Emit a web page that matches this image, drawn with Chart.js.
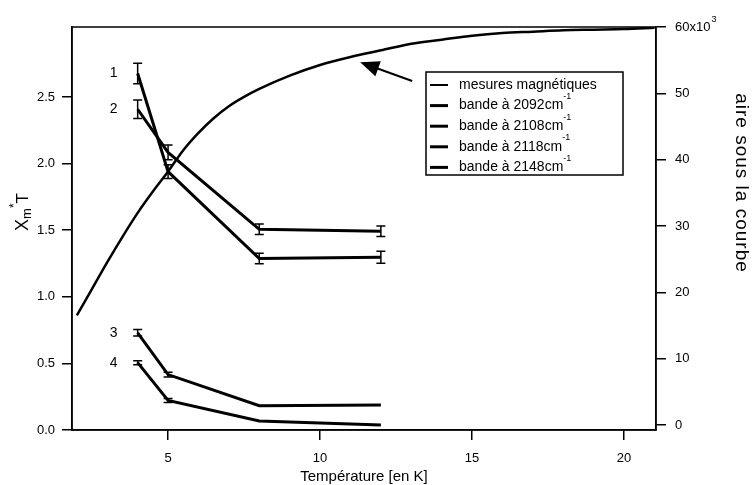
<!DOCTYPE html>
<html>
<head>
<meta charset="utf-8">
<script src="https://cdn.jsdelivr.net/npm/chart.js@4.4.1/dist/chart.umd.min.js"></script>
<style>
  html, body { margin: 0; padding: 0; background: #fff; }
  #chart { display: block; }
</style>
</head>
<body>
<canvas id="chart" width="752" height="485"></canvas>
<script>
// -------------------------
// Data
// -------------------------
const magTemps = [2.0, 2.5, 3.0, 3.5, 4.0, 4.5, 5.0, 5.5, 6.0, 6.5, 7.0, 7.5, 8.0, 9.0, 10.0, 11.0, 12.0, 13.0, 14.0, 15.0, 16.0, 17.0, 18.0, 19.0, 20.0, 21.0];
const magValues = [0.86, 1.06, 1.26, 1.45, 1.63, 1.79, 1.94, 2.10, 2.23, 2.34, 2.43, 2.50, 2.56, 2.66, 2.74, 2.80, 2.85, 2.90, 2.93, 2.96, 2.98, 2.99, 3.00, 3.005, 3.01, 3.02];

const bandTemps = [4, 5, 8, 12];
const band2092 = [53000, 38200, 25100, 25300];
const band2092Err = [1550, 1050, 800, 900];
const band2108 = [47600, 41100, 29500, 29200];
const band2108Err = [1400, 1100, 800, 800];
const band2118 = [13900, 7600, 2900, 3000];
const band2118Err = [500, 350, 0, 0];
const band2148 = [9400, 3700, 600, 0];
const band2148Err = [300, 300, 0, 0];

const bandNames = ["bande à 2092cm", "bande à 2108cm", "bande à 2118cm", "bande à 2148cm"];
const curveNumbers = ["1", "2", "3", "4"];

const xTicks = [5, 10, 15, 20];
const leftTicks = [0, 0.5, 1.0, 1.5, 2.0, 2.5];
const rightTicks = [0, 10000, 20000, 30000, 40000, 50000, 60000];

// arrow pointing at the magnetic curve, in data units (T, Xm*T)
const arrowTail = [13.03, 2.62];
const arrowTip = [11.32, 2.76];

const FONT = "'Liberation Sans', Arial, sans-serif";

function pts(xs, ys) {
  return xs.map((x, i) => ({ x: x, y: ys[i] }));
}

function bandSet(label, values, errs) {
  return {
    label: label,
    data: pts(bandTemps, values),
    errors: errs,
    yAxisID: "yR",
    borderColor: "#000",
    borderWidth: 3,
    pointRadius: 0,
    tension: 0,
  };
}

// -------------------------
// Error bars, frame, texts, legend, arrow
// -------------------------
const decorPlugin = {
  id: "decor",
  afterDatasetsDraw(chart) {
    const ctx = chart.ctx;
    const xs = chart.scales.x;
    const yr = chart.scales.yR;
    const yl = chart.scales.yL;
    const area = chart.chartArea;

    ctx.save();
    ctx.strokeStyle = "#000";
    ctx.fillStyle = "#000";

    // error bars
    ctx.lineWidth = 1.5;
    chart.data.datasets.forEach((ds) => {
      if (!ds.errors) return;
      ds.data.forEach((p, i) => {
        const e = ds.errors[i];
        if (!e) return;
        const px = xs.getPixelForValue(p.x);
        const top = yr.getPixelForValue(p.y + e);
        const bot = yr.getPixelForValue(p.y - e);
        ctx.beginPath();
        ctx.moveTo(px, top);
        ctx.lineTo(px, bot);
        ctx.moveTo(px - 4.5, top);
        ctx.lineTo(px + 4.5, top);
        ctx.moveTo(px - 4.5, bot);
        ctx.lineTo(px + 4.5, bot);
        ctx.stroke();
      });
    });

    // frame
    ctx.lineWidth = 1.5;
    ctx.strokeRect(area.left, area.top, area.right - area.left, area.bottom - area.top);

    // curve numbers next to the first point
    ctx.font = "14px " + FONT;
    ctx.textAlign = "center";
    ctx.textBaseline = "middle";
    chart.data.datasets.slice(1).forEach((ds, i) => {
      const p = ds.data[0];
      ctx.fillText(curveNumbers[i], xs.getPixelForValue(p.x) - 24, yr.getPixelForValue(p.y));
    });

    // arrow
    const tx = xs.getPixelForValue(arrowTail[0]);
    const ty = yl.getPixelForValue(arrowTail[1]);
    const hx = xs.getPixelForValue(arrowTip[0]);
    const hy = yl.getPixelForValue(arrowTip[1]);
    const ang = Math.atan2(hy - ty, hx - tx);
    ctx.lineWidth = 2;
    ctx.beginPath();
    ctx.moveTo(tx, ty);
    ctx.lineTo(hx - 14 * Math.cos(ang), hy - 14 * Math.sin(ang));
    ctx.stroke();
    ctx.beginPath();
    ctx.moveTo(hx, hy);
    ctx.lineTo(hx - 19 * Math.cos(ang) + 8 * Math.sin(ang), hy - 19 * Math.sin(ang) - 8 * Math.cos(ang));
    ctx.lineTo(hx - 19 * Math.cos(ang) - 8 * Math.sin(ang), hy - 19 * Math.sin(ang) + 8 * Math.cos(ang));
    ctx.closePath();
    ctx.fill();

    // legend box
    const lx = 426, ly = 72, lw = 197, lh = 103;
    ctx.fillStyle = "#fff";
    ctx.fillRect(lx, ly, lw, lh);
    ctx.fillStyle = "#000";
    ctx.lineWidth = 1.5;
    ctx.strokeRect(lx, ly, lw, lh);
    const names = [chart.data.datasets[0].label].concat(bandNames);
    ctx.textAlign = "left";
    names.forEach((name, i) => {
      const ry = ly + 13 + i * 20.6;
      ctx.lineWidth = i === 0 ? 2 : 3;
      ctx.beginPath();
      ctx.moveTo(lx + 4, ry);
      ctx.lineTo(lx + 22, ry);
      ctx.stroke();
      ctx.font = "14px " + FONT;
      ctx.fillText(name, lx + 33, ry);
      if (i > 0) {
        const w = ctx.measureText(name).width;
        ctx.font = "9px " + FONT;
        ctx.fillText("-1", lx + 33 + w, ry - 9);
      }
    });

    ctx.restore();
  },
  afterDraw(chart) {
    const ctx = chart.ctx;
    const area = chart.chartArea;
    const yr = chart.scales.yR;
    ctx.save();
    ctx.fillStyle = "#000";

    // superscript on the 60x10^3 tick label
    ctx.font = "13px " + FONT;
    const base = ctx.measureText("60x10").width;
    ctx.font = "9px " + FONT;
    ctx.textAlign = "left";
    ctx.textBaseline = "middle";
    ctx.fillText("3", area.right + 19 + base + 1, yr.getPixelForValue(60000) - 7);

    // x title
    ctx.font = "15px " + FONT;
    ctx.textAlign = "center";
    ctx.fillText("Température [en K]", (area.left + area.right) / 2, 477);

    // left title X_m*T
    ctx.translate(23, 212);
    ctx.rotate(-Math.PI / 2);
    const parts = [
      { t: "X", f: "18px", dy: 0 },
      { t: "m", f: "13px", dy: 4 },
      { t: "*", f: "12px", dy: -8 },
      { t: "T", f: "17px", dy: 0 },
    ];
    let total = 0;
    parts.forEach((p) => {
      ctx.font = p.f + " " + FONT;
      p.w = ctx.measureText(p.t).width;
      total += p.w;
    });
    let cx = -total / 2;
    ctx.textAlign = "left";
    parts.forEach((p) => {
      ctx.font = p.f + " " + FONT;
      ctx.fillText(p.t, cx, p.dy);
      cx += p.w;
    });
    ctx.setTransform(1, 0, 0, 1, 0, 0);

    // right title
    ctx.translate(741, 183);
    ctx.rotate(Math.PI / 2);
    ctx.font = "19px " + FONT;
    ctx.letterSpacing = "1px";
    ctx.textAlign = "center";
    ctx.fillText("aire sous la courbe", 0, 0);
    ctx.restore();
  },
};

// -------------------------
// Chart
// -------------------------
const axisGrid = {
  drawOnChartArea: false,
  drawTicks: true,
  tickLength: 10,
  color: "#000",
  lineWidth: 1.5,
};

new Chart(document.getElementById("chart"), {
  type: "line",
  data: {
    datasets: [
      {
        label: "mesures magnétiques",
        data: pts(magTemps, magValues),
        yAxisID: "yL",
        borderColor: "#000",
        borderWidth: 2.5,
        pointRadius: 0,
        cubicInterpolationMode: "monotone",
      },
      bandSet(bandNames[0], band2092, band2092Err),
      bandSet(bandNames[1], band2108, band2108Err),
      bandSet(bandNames[2], band2118, band2118Err),
      bandSet(bandNames[3], band2148, band2148Err),
    ],
  },
  options: {
    responsive: false,
    animation: false,
    devicePixelRatio: 1,
    layout: { padding: { top: 27, left: 0, right: 0, bottom: 0 } },
    plugins: {
      legend: { display: false },
      tooltip: { enabled: false },
    },
    scales: {
      x: {
        type: "linear",
        min: 1.84,
        max: 21.05,
        afterBuildTicks: (s) => { s.ticks = xTicks.map((v) => ({ value: v })); },
        afterFit: (s) => { s.height = 55; },
        grid: axisGrid,
        border: { display: true, color: "#000", width: 1.5 },
        ticks: { color: "#000", font: { family: FONT, size: 13 }, padding: 11, maxRotation: 0 },
      },
      yL: {
        type: "linear",
        position: "left",
        min: 0,
        max: 3.025,
        afterBuildTicks: (s) => { s.ticks = leftTicks.map((v) => ({ value: v })); },
        afterFit: (s) => { s.width = 72; },
        grid: axisGrid,
        border: { display: true, color: "#000", width: 1.5 },
        ticks: { color: "#000", font: { family: FONT, size: 13 }, padding: 7, callback: (v) => v.toFixed(1) },
      },
      yR: {
        type: "linear",
        position: "right",
        min: -754,
        max: 60000,
        afterBuildTicks: (s) => { s.ticks = rightTicks.map((v) => ({ value: v })); },
        afterFit: (s) => { s.width = 96; },
        grid: axisGrid,
        border: { display: true, color: "#000", width: 1.5 },
        ticks: {
          color: "#000",
          font: { family: FONT, size: 13 },
          padding: 9,
          callback: (v) => (v === 60000 ? "60x10" : String(v / 1000)),
        },
      },
    },
  },
  plugins: [decorPlugin],
});
</script>
</body>
</html>
